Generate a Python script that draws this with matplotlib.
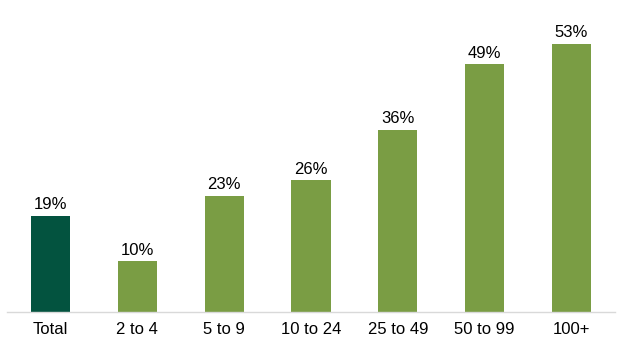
import matplotlib
matplotlib.use("Agg")
import matplotlib.pyplot as plt

categories = ["Total", "2 to 4", "5 to 9", "10 to 24", "25 to 49", "50 to 99", "100+"]
values = [19, 10, 23, 26, 36, 49, 53]
labels = ["19%", "10%", "23%", "26%", "36%", "49%", "53%"]

dark = "#03533F"
light = "#7A9D44"
colors = [dark] + [light] * (len(values) - 1)

plt.rcParams['font.family'] = ['Liberation Sans', 'DejaVu Sans']

fig = plt.figure(figsize=(6.24, 3.51), dpi=100)
ax = fig.add_axes([7/624, 39/351, 608/624, 1 - 39/351])
x = list(range(len(categories)))
bars = ax.bar(x, values, width=0.45, color=colors)
for xi, v, lab in zip(x, values, labels):
    ax.annotate(lab, (xi, v), xytext=(0, 2.5), textcoords="offset points",
                ha="center", va="bottom", fontsize=12, color="#000000")
ax.set_xlim(-0.5, len(categories) - 0.5)
ax.set_ylim(0, 312/5.06)
ax.set_xticks(x)
ax.set_xticklabels(categories, fontsize=12)
ax.tick_params(axis='x', length=0, pad=7)
ax.set_yticks([])
for s in ["top", "left", "right"]:
    ax.spines[s].set_visible(False)
ax.spines["bottom"].set_color("#D9D9D9")
ax.spines["bottom"].set_linewidth(1)
fig.savefig("out.png", dpi=100)
